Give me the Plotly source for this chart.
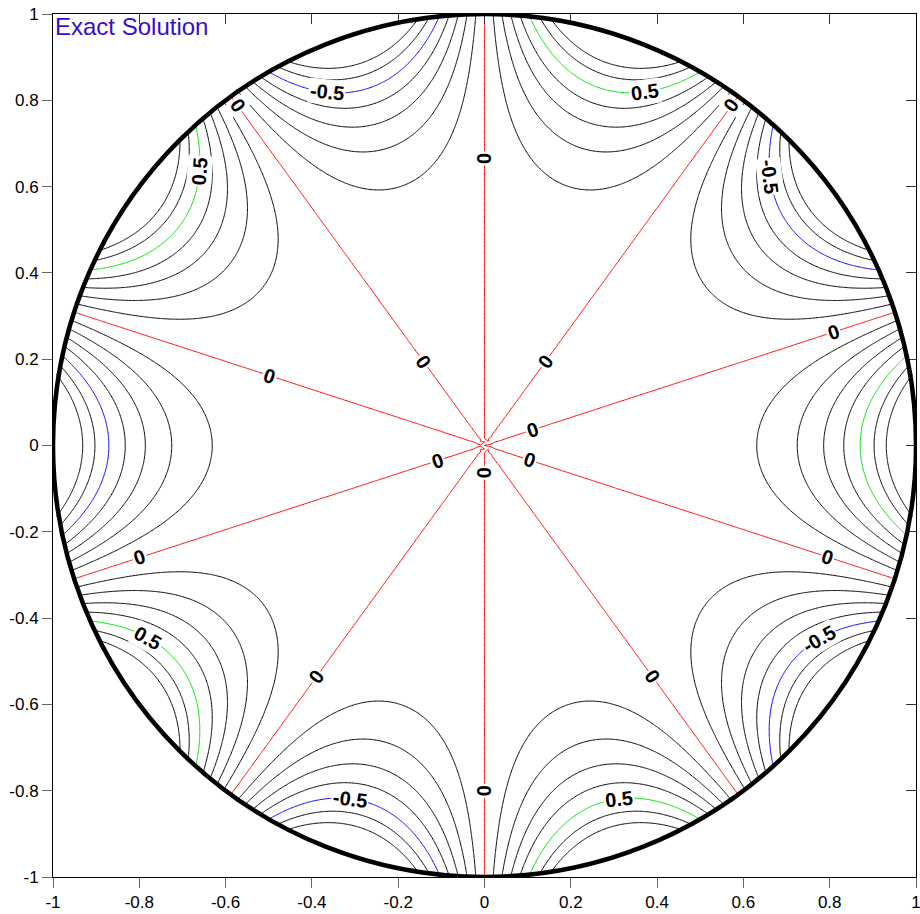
import numpy as np
import plotly.graph_objects as go

# Contour levels of the exact solution u = Re(z^5) on the unit disk
black_levels = [-0.7, -0.6, -0.4, -0.3, -0.2, -0.1,
                0.1, 0.2, 0.3, 0.4, 0.6, 0.7]
zero_level = 0.0
pos_level = 0.5
neg_level = -0.5
tick_vals = [-1, -0.8, -0.6, -0.4, -0.2, 0, 0.2, 0.4, 0.6, 0.8, 1]
tick_text = ["-1", "-0.8", "-0.6", "-0.4", "-0.2", "0", "0.2", "0.4", "0.6", "0.8", "1"]
title_text = "Exact Solution"

# approximate label anchors (snapped onto their level curves)
zero_label_x = [0.0, -0.57, 0.57, 0.81, -0.5, -0.14, 0.14, 0.11, -0.11, 0.0, 0.105, -0.8, -0.39, 0.385, 0.0, 0.796]
zero_label_y = [0.665, 0.79, 0.79, 0.26, 0.16, 0.195, 0.195, 0.037, -0.035, -0.063, -0.035, -0.256, -0.537, -0.537, -0.8, -0.256]
pos_label_x = [0.371, -0.664, -0.784, 0.313]
pos_label_y = [0.826, 0.637, -0.451, -0.823]
neg_label_x = [-0.364, 0.661, 0.777, -0.313]
neg_label_y = [0.823, 0.623, -0.451, -0.823]

n = 241
xs = np.linspace(-1.0, 1.0, n)
ys = np.linspace(-1.0, 1.0, n)
X, Y = np.meshgrid(xs, ys)
Z = np.real((X + 1j * Y) ** 5)
R = np.sqrt(X ** 2 + Y ** 2)
Z[R > 1.006] = np.nan

fig = go.Figure()


def add_level(level, color):
    fig.add_trace(go.Contour(
        x=xs, y=ys, z=Z,
        contours=dict(start=level, end=level, size=1, coloring="none",
                      showlabels=False),
        line=dict(color=color, width=1, smoothing=0),
        showscale=False, connectgaps=False, hoverinfo="skip",
    ))


for lv in black_levels:
    add_level(lv, "black")
add_level(zero_level, "red")
add_level(pos_level, "#00e000")
add_level(neg_level, "blue")

fig.add_shape(type="circle", xref="x", yref="y", x0=-1, y0=-1, x1=1, y1=1,
              line=dict(color="black", width=4.5), layer="above")


def f_and_grad(x, y):
    z = complex(x, y)
    g = z ** 5
    dg = 5 * z ** 4
    return g.real, dg.real, -dg.imag


def snap(x, y, level):
    for _ in range(20):
        f, fx, fy = f_and_grad(x, y)
        gg = fx * fx + fy * fy
        if gg == 0:
            break
        d = (f - level) / gg
        x -= d * fx
        y -= d * fy
    return x, y


annotations = []
label_font = dict(family="Liberation Sans, Arial", size=20, color="black", weight="bold")


def add_labels(xl, yl, level, text):
    for x0, y0 in zip(xl, yl):
        x, y = snap(x0, y0, level)
        _, fx, fy = f_and_grad(x, y)
        tx, ty = -fy, fx
        ang = -np.degrees(np.arctan2(ty, tx))
        while ang > 90:
            ang -= 180
        while ang <= -90:
            ang += 180
        annotations.append(dict(x=x, y=y, xref="x", yref="y", text=text,
                                showarrow=False, textangle=ang, font=label_font,
                                bgcolor="white", borderpad=1))


add_labels(zero_label_x, zero_label_y, zero_level, "0")
add_labels(pos_label_x, pos_label_y, pos_level, "0.5")
add_labels(neg_label_x, neg_label_y, neg_level, "-0.5")

annotations.append(dict(text=title_text, xref="paper", yref="paper", x=0.0, y=1.004,
                        xanchor="left", yanchor="top", showarrow=False,
                        font=dict(family="Liberation Sans, Arial", size=24,
                                  color="#3a0ccc")))

axis_font = dict(family="Liberation Sans, Arial", size=17, color="black")
common = dict(range=[-1, 1], tickvals=tick_vals, showgrid=False, zeroline=False,
              showline=True, linecolor="black", linewidth=1, ticklen=10,
              automargin=False)
fig.update_layout(
    width=920, height=914,
    margin=dict(l=53, r=4, t=14, b=37),
    paper_bgcolor="white", plot_bgcolor="white",
    showlegend=False,
    xaxis=dict(**common, ticktext=tick_text, ticks="outside", tickcolor="#666666",
               tickfont=axis_font, ticklabeloverflow="allow"),
    yaxis=dict(**common, ticktext=tick_text, ticks="outside", tickcolor="#666666",
               tickfont=axis_font, ticklabeloverflow="allow"),
    xaxis2=dict(**common, overlaying="x", side="top", showticklabels=False,
                ticks="inside", tickcolor="#333333"),
    yaxis2=dict(**common, overlaying="y", side="right", showticklabels=False,
                ticks="inside", tickcolor="#333333"),
    annotations=annotations,
)
# invisible trace to activate the mirrored axes
fig.add_trace(go.Scatter(x=[None], y=[None], xaxis="x2", yaxis="y2",
                         showlegend=False, hoverinfo="skip"))

# remove the default page margin so the 920x914 figure fills the window exactly
page_fix = ("document.body.style.margin='0';"
            "document.body.style.overflow='hidden';"
            "document.documentElement.style.overflow='hidden';")
fig.write_html("out.html", post_script=page_fix,
               config={"displayModeBar": False})
